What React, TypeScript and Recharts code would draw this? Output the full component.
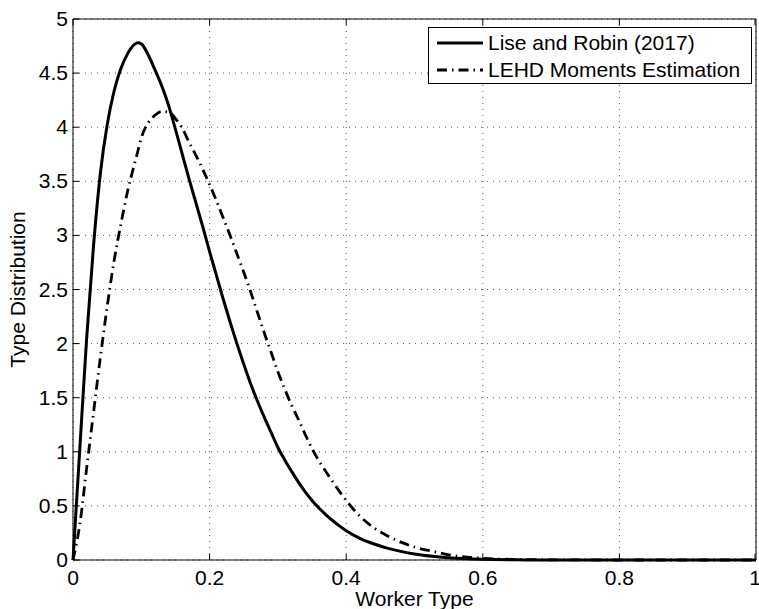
import { LineChart, Line, XAxis, YAxis, CartesianGrid, Legend } from 'recharts';

const FONT = '"Liberation Sans", Arial, Helvetica, sans-serif';
const TICK_LEN = 6;

// worker type grid
const workerType = [
  0, 0.01, 0.02, 0.03, 0.04, 0.05, 0.06, 0.07, 0.08, 0.09, 0.095, 0.1, 0.11, 0.12, 0.13, 0.14, 0.15,
  0.16, 0.17, 0.18, 0.19, 0.2, 0.21, 0.22, 0.23, 0.24, 0.25, 0.26, 0.27, 0.28, 0.29, 0.3, 0.31, 0.32,
  0.33, 0.34, 0.35, 0.36, 0.37, 0.38, 0.39, 0.4, 0.42, 0.44, 0.46, 0.48, 0.5, 0.53, 0.55, 0.6, 0.65, 0.7,
  0.8, 0.9, 1,
];

const liseRobin = [
  0, 1.03, 2.05, 2.9, 3.57, 4.02, 4.33, 4.54, 4.68, 4.765, 4.78, 4.77, 4.67, 4.53, 4.38, 4.2, 3.98,
  3.75, 3.52, 3.3, 3.08, 2.85, 2.63, 2.41, 2.2, 2.0, 1.81, 1.63, 1.47, 1.32, 1.18, 1.04, 0.925, 0.82,
  0.72, 0.63, 0.55, 0.48, 0.42, 0.365, 0.315, 0.27, 0.2, 0.15, 0.11, 0.08, 0.056, 0.032, 0.02, 0.006, 0.002, 0,
  0, 0, 0,
];

const lehdMoments = [
  0, 0.33, 0.85, 1.36, 1.87, 2.34, 2.76, 3.1, 3.41, 3.66, 3.78, 3.9, 4.04, 4.11, 4.145, 4.14, 4.08,
  3.99, 3.86, 3.74, 3.61, 3.47, 3.32, 3.16, 3.0, 2.83, 2.66, 2.48, 2.29, 2.1, 1.92, 1.74, 1.58, 1.43,
  1.3, 1.16, 1.03, 0.915, 0.82, 0.725, 0.635, 0.55, 0.405, 0.3, 0.225, 0.165, 0.12, 0.075, 0.048, 0.016, 0.005, 0.002,
  0, 0, 0,
];

const xTicks = [0, 0.2, 0.4, 0.6, 0.8, 1];
const yTicks = [0, 0.5, 1, 1.5, 2, 2.5, 3, 3.5, 4, 4.5, 5];

const series = [
  { key: 'lise', name: 'Lise and Robin (2017)', width: 3, dash: undefined as string | undefined },
  { key: 'lehd', name: 'LEHD Moments Estimation', width: 2.8, dash: '10 5 1.5 5' },
];

const data = workerType.map((x, i) => ({ x, lise: liseRobin[i], lehd: lehdMoments[i] }));

const BottomTick = (props: any) => {
  const { x, y, payload } = props;
  return (
    <g>
      <line x1={x} y1={y} x2={x} y2={y - TICK_LEN} stroke="#000" />
      <text x={x} y={y + 25} textAnchor="middle" fontSize={21} fontFamily={FONT} fill="#000">
        {String(payload.value)}
      </text>
    </g>
  );
};

const LeftTick = (props: any) => {
  const { x, y, payload } = props;
  return (
    <g>
      <line x1={x} y1={y} x2={x + TICK_LEN} y2={y} stroke="#000" />
      <text x={x - 5} y={y + 7} textAnchor="end" fontSize={21} fontFamily={FONT} fill="#000">
        {String(payload.value)}
      </text>
    </g>
  );
};

const TopTick = (props: any) => (
  <line x1={props.x} y1={props.y} x2={props.x} y2={props.y + TICK_LEN} stroke="#000" />
);

const RightTick = (props: any) => (
  <line x1={props.x} y1={props.y} x2={props.x - TICK_LEN} y2={props.y} stroke="#000" />
);

const LegendBox = () => (
  <div
    style={{
      border: '1px solid #000',
      background: '#fff',
      width: 322,
      height: 54,
      paddingTop: 1,
      fontFamily: FONT,
      fontSize: 21,
      color: '#000',
    }}
  >
    {series.map((s) => (
      <div key={s.key} style={{ display: 'flex', alignItems: 'center', height: 27 }}>
        <svg width={46} height={6} style={{ marginLeft: 8, marginRight: 5 }}>
          <line x1={0} y1={3} x2={46} y2={3} stroke="#000" strokeWidth={s.width} strokeDasharray={s.dash} />
        </svg>
        <span style={{ whiteSpace: 'nowrap' }}>{s.name}</span>
      </div>
    ))}
  </div>
);

export default function App() {
  return (
    <div style={{ position: 'absolute', left: 0, top: 0, background: '#fff' }}>
      <LineChart width={759} height={609} data={data} margin={{ top: 0, right: 0, bottom: 0, left: 0 }}>
        <CartesianGrid stroke="#555" strokeDasharray="1 5" />
        <XAxis
          dataKey="x"
          type="number"
          domain={[0, 1]}
          ticks={xTicks}
          height={49}
          tickSize={0}
          tickMargin={0}
          tickLine={false}
          axisLine={{ stroke: '#000' }}
          tick={(p: any) => <BottomTick {...p} />}
          label={(p: any) => {
            const vb = p.viewBox;
            return (
              <text x={vb.x + vb.width / 2} y={vb.y + 46} textAnchor="middle" fontSize={21} fontFamily={FONT} fill="#000">
                Worker Type
              </text>
            );
          }}
        />
        <XAxis
          xAxisId="top"
          orientation="top"
          dataKey="x"
          type="number"
          domain={[0, 1]}
          ticks={xTicks}
          height={19}
          tickSize={0}
          tickMargin={0}
          tickLine={false}
          axisLine={{ stroke: '#000' }}
          tick={(p: any) => <TopTick {...p} />}
        />
        <YAxis
          type="number"
          domain={[0, 5]}
          ticks={yTicks}
          width={73}
          tickSize={0}
          tickMargin={0}
          tickLine={false}
          axisLine={{ stroke: '#000' }}
          tick={(p: any) => <LeftTick {...p} />}
          label={(p: any) => {
            const vb = p.viewBox;
            const cy = vb.y + vb.height / 2;
            return (
              <text x={25} y={cy} transform={`rotate(-90 25 ${cy})`} textAnchor="middle" fontSize={21} fontFamily={FONT} fill="#000">
                Type Distribution
              </text>
            );
          }}
        />
        <YAxis
          yAxisId="right"
          orientation="right"
          type="number"
          domain={[0, 5]}
          ticks={yTicks}
          width={3}
          tickSize={0}
          tickMargin={0}
          tickLine={false}
          axisLine={{ stroke: '#000' }}
          tick={(p: any) => <RightTick {...p} />}
        />
        <Legend
          layout="vertical"
          align="center"
          verticalAlign="middle"
          wrapperStyle={{ top: 27, left: 428, width: 'auto' }}
          content={() => <LegendBox />}
        />
        {series.map((s) => (
          <Line
            key={s.key}
            type="monotone"
            dataKey={s.key}
            name={s.name}
            stroke="#000"
            strokeWidth={s.width}
            strokeDasharray={s.dash}
            dot={false}
            activeDot={false}
            isAnimationActive={false}
          />
        ))}
      </LineChart>
    </div>
  );
}
